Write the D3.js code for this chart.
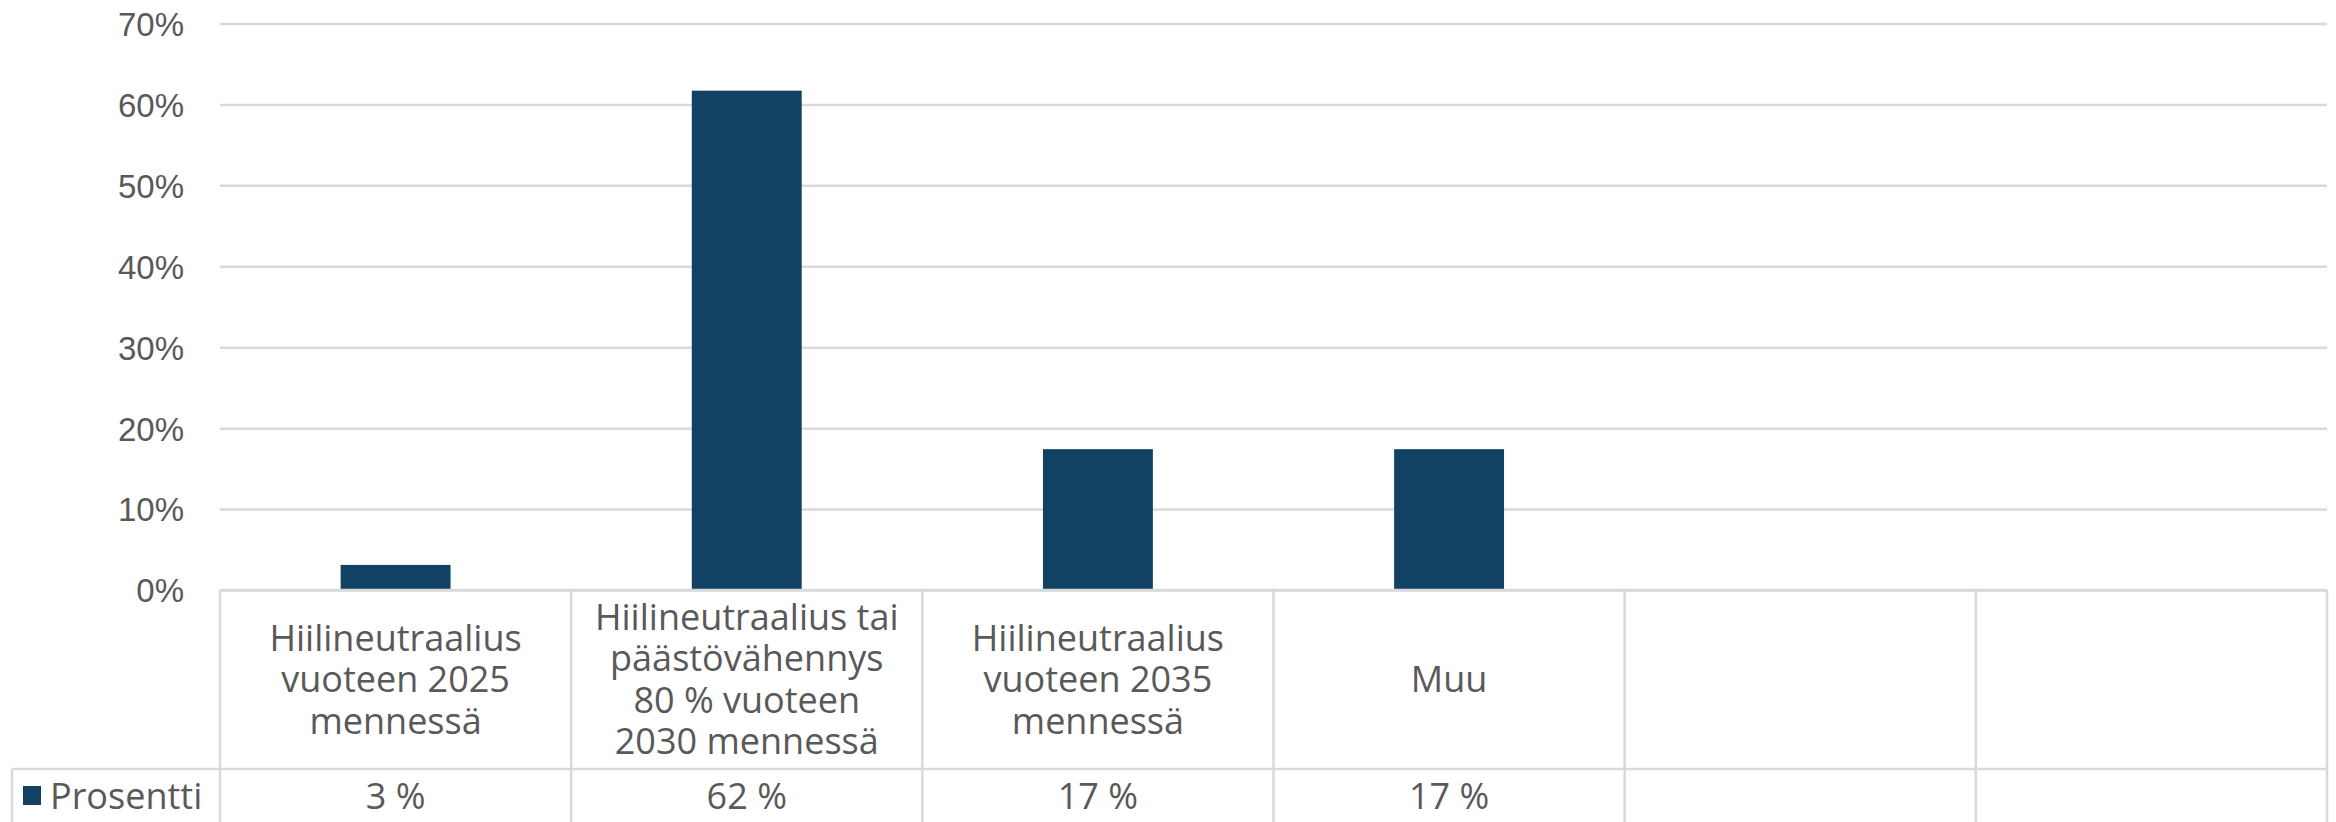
<!DOCTYPE html>
<html>
<head>
<meta charset="utf-8">
<title>Prosentti</title>
<script src="https://cdn.jsdelivr.net/npm/d3@7"></script>
<style>
body { margin: 0; background: #fff; }
.tick text { fill: #595959; font-family: "Liberation Sans", Arial, sans-serif; font-size: 33px; }
.cell text { fill: #595959; font-family: "Open Sans", sans-serif; font-size: 36px; }
</style>
</head>
<body>
<script>
// categories (lines as shown in the table), last two columns are empty
var categories = [
  ["Hiilineutraalius", "vuoteen 2025", "mennessä"],
  ["Hiilineutraalius tai", "päästövähennys", "80 % vuoteen", "2030 mennessä"],
  ["Hiilineutraalius", "vuoteen 2035", "mennessä"],
  ["Muu"],
  [],
  []
];
var values = [3.1, 61.7, 17.4, 17.4, null, null];
var seriesName = "Prosentti";
var yTicks = [0, 10, 20, 30, 40, 50, 60, 70];

var w = 2336, h = 822;
var plotLeft = 220, plotRight = 2327, plotTop = 23.5, zero = 590;
var rowSplit = 769;
var barColor = "#124263", gridColor = "#d9d9d9";

var svg = d3.select("body").append("svg")
  .attr("width", w)
  .attr("height", h);

var x = d3.scaleBand()
  .domain(d3.range(categories.length))
  .range([plotLeft, plotRight])
  .padding(0);

var y = d3.scaleLinear()
  .domain([0, 70])
  .range([zero, plotTop]);

// gridlines + tick labels
var yAxis = d3.axisLeft(y)
  .tickValues(yTicks)
  .tickSize(-(plotRight - plotLeft))
  .tickPadding(36)
  .tickFormat(function(d){ return d + "%"; });

var gy = svg.append("g")
  .attr("transform", "translate(" + plotLeft + ",0)")
  .call(yAxis);
gy.select(".domain").remove();
gy.selectAll(".tick line").attr("stroke", gridColor).attr("stroke-width", 2.5);
gy.selectAll(".tick text").attr("dy", "0.36em");

// bars
var barFrac = 0.313;
var barData = values.map(function(v, i){ return {v: v, i: i}; }).filter(function(d){ return d.v != null; });
svg.selectAll(".bar")
  .data(barData)
  .enter()
  .append("rect")
  .attr("class", "bar")
  .attr("fill", barColor)
  .attr("x", function(d){ return x(d.i) + x.bandwidth() * (1 - barFrac) / 2; })
  .attr("width", x.bandwidth() * barFrac)
  .attr("y", function(d){ return y(d.v); })
  .attr("height", function(d){ return y(0) - y(d.v); });

// data table
var table = svg.append("g").attr("class", "cell");
var lineStyle = function(sel){ return sel.attr("stroke", gridColor).attr("stroke-width", 2.5); };

table.append("line").attr("x1", plotLeft).attr("x2", plotRight).attr("y1", zero).attr("y2", zero).call(lineStyle);
table.append("line").attr("x1", 12).attr("x2", plotRight).attr("y1", rowSplit).attr("y2", rowSplit).call(lineStyle);
table.append("line").attr("x1", 12).attr("x2", 12).attr("y1", rowSplit).attr("y2", h + 5).call(lineStyle);

var bounds = x.domain().map(function(i){ return x(i); }).concat([plotRight]);
table.selectAll(".vline")
  .data(bounds)
  .enter()
  .append("line")
  .attr("class", "vline")
  .attr("x1", function(d){ return d; })
  .attr("x2", function(d){ return d; })
  .attr("y1", zero)
  .attr("y2", h + 5)
  .call(lineStyle);

var lineH = 41.5, midBase = 692;
categories.forEach(function(lines, i){
  var t = table.append("text")
    .attr("text-anchor", "middle");
  lines.forEach(function(l, k){
    t.append("tspan")
      .attr("x", x(i) + x.bandwidth() / 2)
      .attr("y", midBase + (k - (lines.length - 1) / 2) * lineH)
      .text(l);
  });
});

// value row
table.selectAll(".val")
  .data(barData)
  .enter()
  .append("text")
  .attr("class", "val")
  .attr("text-anchor", "middle")
  .attr("x", function(d){ return x(d.i) + x.bandwidth() / 2; })
  .attr("y", 809)
  .text(function(d){ return Math.round(d.v) + " %"; });

// legend key
table.append("rect")
  .attr("x", 23).attr("y", 786)
  .attr("width", 18).attr("height", 19)
  .attr("fill", barColor);
table.append("text")
  .attr("x", 50).attr("y", 809)
  .text(seriesName);
</script>
</body>
</html>
